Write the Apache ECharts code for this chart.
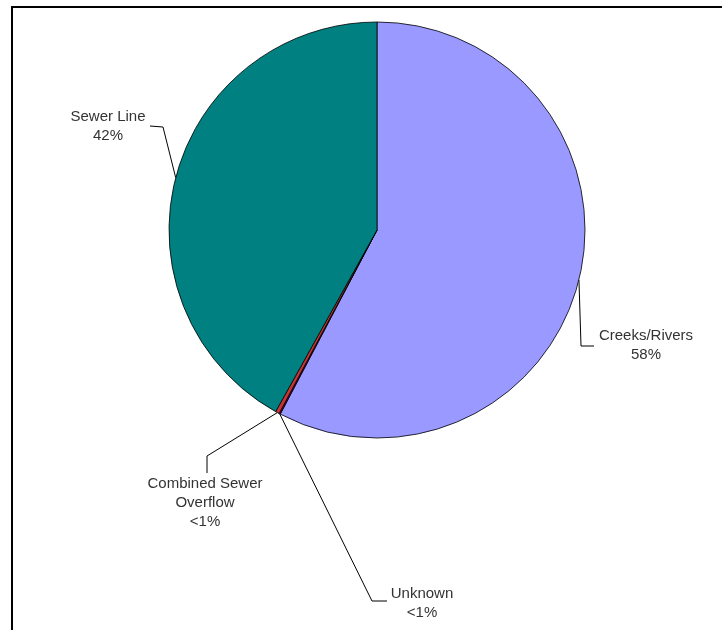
<!DOCTYPE html>
<html>
<head>
<meta charset="utf-8">
<script src="https://cdn.jsdelivr.net/npm/echarts@6/dist/echarts.min.js"></script>
<style>
    html, body { margin: 0; padding: 0; background: #fff; }
    #chart { width: 722px; height: 630px; }
</style>
</head>
<body>
<div id="chart"></div>
<script>
// data (percent of total)
const categories = ['Creeks/Rivers', 'Unknown', 'Combined Sewer\nOverflow', 'Sewer Line'];
const values = [57.7, 0.1, 0.3, 41.9];
const colors = ['#9999FF', '#660066', '#CC3333', '#008080'];

// where each label sits, and the bend of its leader line
const labelSpots = [
    { x: 646, y: 345, bend: [581, 346], end: [594, 346] },
    { x: 422, y: 603, bend: [372, 601], end: [387, 601] },
    { x: 205, y: 503, bend: [207, 456], end: [207, 473] },
    { x: 108, y: 126, bend: [163, 127], end: [150, 126] }
];

const chart = echarts.init(document.getElementById('chart'));

let option = {
    animation: false,
    backgroundColor: '#fff',
    graphic: [{
        type: 'rect',
        shape: { x: 12, y: 7, width: 800, height: 800 },
        style: { fill: 'none', stroke: '#000', lineWidth: 2 },
        silent: true
    }],
    series: [{
        type: 'pie',
        center: [377, 230],
        radius: 208,
        startAngle: 90,
        clockwise: true,
        avoidLabelOverlap: false,
        minShowLabelAngle: 0,
        data: categories.map((name, i) => ({
            name: name,
            value: values[i],
            itemStyle: { color: colors[i] }
        })),
        itemStyle: { borderColor: '#000', borderWidth: 0.8 },
        label: {
            show: true,
            position: 'outside',
            fontFamily: 'Liberation Sans, Arial, sans-serif',
            fontSize: 15,
            lineHeight: 19,
            color: '#333',
            align: 'center',
            formatter: function (p) {
                let pct = p.percent < 1 ? '<1%' : Math.round(p.percent) + '%';
                return p.name + '\n' + pct;
            }
        },
        labelLine: {
            show: true,
            length: 10,
            length2: 10,
            lineStyle: { color: '#000', width: 1 }
        },
        labelLayout: function (params) {
            const spot = labelSpots[params.dataIndex];
            const start = params.labelLinePoints ? params.labelLinePoints[0] : spot.bend;
            return {
                x: spot.x,
                y: spot.y,
                align: 'center',
                verticalAlign: 'middle',
                labelLinePoints: [start, spot.bend, spot.end]
            };
        },
        emphasis: { disabled: true }
    }]
};

chart.setOption(option);
</script>
</body>
</html>
